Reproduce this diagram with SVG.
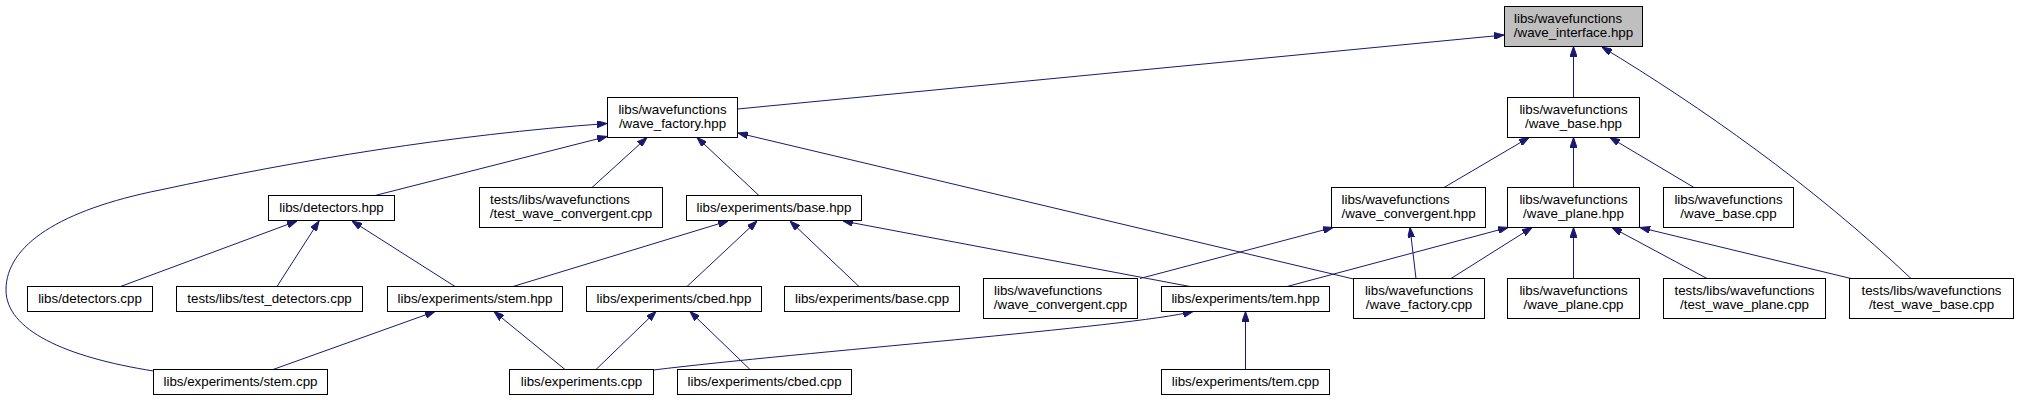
<svg xmlns="http://www.w3.org/2000/svg" width="2017" height="400" viewBox="0 0 2017 400">
<style>
.n rect{fill:#ffffff;stroke:#000000;stroke-width:1}
.n.root rect{fill:#bfbfbf}
.n text{font-family:"Liberation Sans",Arial,Helvetica,sans-serif;font-size:13.333px;fill:#000000;text-anchor:middle}
.n text.l{text-anchor:start}
.e path{fill:none;stroke:#191970;stroke-width:1;marker-end:url(#ah)}
</style>
<defs>
<marker id="ah" viewBox="0 0 10 7" refX="10" refY="3.5" markerWidth="10" markerHeight="7" markerUnits="userSpaceOnUse" orient="auto">
<path d="M0,0 L10,3.5 L0,7 z" fill="#191970" stroke="#191970" stroke-width="1"/>
</marker>
</defs>
<rect width="2017" height="400" fill="#ffffff"/>
<g id="edges" class="e">
<path d="M737.5,109 L1504,35"/>
<path d="M1573.5,97.5 L1573.5,46.5"/>
<path d="M1911,278.5 C1811,184 1701,107 1602,47"/>
<path d="M1444,187.5 L1529,137.5"/>
<path d="M1573.5,187.5 L1573.5,137.5"/>
<path d="M1694,187.5 L1610,137.5"/>
<path d="M375,195.5 L607,136.5"/>
<path d="M153.5,371 C65,357 6,330 6,290 C6,245 60,210 160,190 C300,160 450,135 607,123.5"/>
<path d="M592,187.5 L647,137.5"/>
<path d="M759,195.5 L697,137.5"/>
<path d="M1353.5,279 L738,133"/>
<path d="M1416,278.5 L1410,227.5"/>
<path d="M1140,278.5 L1333,227.5"/>
<path d="M1287,286.5 L1508,227.5"/>
<path d="M1451,278.5 L1532,227.5"/>
<path d="M1573.5,278.5 L1573.5,227.5"/>
<path d="M1707,278.5 L1612,227.5"/>
<path d="M1851,278.5 L1640,227.5"/>
<path d="M120.5,286.5 L297,221"/>
<path d="M277,286.5 L319,221"/>
<path d="M455,286.5 L352,221"/>
<path d="M513,286.5 L728,221"/>
<path d="M687,286.5 L757,221"/>
<path d="M859,286.5 L790,221"/>
<path d="M1190,286.5 L843,221"/>
<path d="M273,369.5 L435,311.5"/>
<path d="M565,369.5 L494,311.5"/>
<path d="M596,369.5 L656,311.5"/>
<path d="M750,369.5 L690,311.5"/>
<path d="M653.5,370 C800,352 1130,327 1193,311.5"/>
<path d="M1245.5,369.5 L1245.5,311.5"/>
</g>
<g id="wave_interface_hpp" class="n root"><rect x="1504.5" y="6.5" width="138" height="40"/><text class="l" x="1514" y="22.5">libs/wavefunctions</text><text x="1573.5" y="36.5">/wave_interface.hpp</text></g>
<g id="wave_factory_hpp" class="n"><rect x="607.5" y="97.5" width="130" height="40"/><text x="672.5" y="113.5">libs/wavefunctions</text><text x="672.5" y="127.5">/wave_factory.hpp</text></g>
<g id="wave_base_hpp" class="n"><rect x="1507.5" y="97.5" width="132" height="40"/><text x="1573.5" y="113.5">libs/wavefunctions</text><text x="1573.5" y="127.5">/wave_base.hpp</text></g>
<g id="detectors_hpp" class="n"><rect x="268.5" y="195.5" width="126" height="25"/><text x="331.5" y="211.5">libs/detectors.hpp</text></g>
<g id="test_wave_convergent_cpp" class="n"><rect x="479.5" y="187.5" width="183" height="40"/><text class="l" x="490" y="203.5">tests/libs/wavefunctions</text><text x="571" y="217.5">/test_wave_convergent.cpp</text></g>
<g id="base_hpp" class="n"><rect x="686.5" y="195.5" width="175" height="25"/><text x="774" y="211.5">libs/experiments/base.hpp</text></g>
<g id="wave_convergent_hpp" class="n"><rect x="1331.5" y="187.5" width="154" height="40"/><text class="l" x="1341.5" y="203.5">libs/wavefunctions</text><text x="1408.5" y="217.5">/wave_convergent.hpp</text></g>
<g id="wave_plane_hpp" class="n"><rect x="1507.5" y="187.5" width="132" height="40"/><text x="1573.5" y="203.5">libs/wavefunctions</text><text x="1573.5" y="217.5">/wave_plane.hpp</text></g>
<g id="wave_base_cpp" class="n"><rect x="1663.5" y="187.5" width="130" height="40"/><text x="1728.5" y="203.5">libs/wavefunctions</text><text x="1728.5" y="217.5">/wave_base.cpp</text></g>
<g id="detectors_cpp" class="n"><rect x="27.5" y="286.5" width="125" height="25"/><text x="90" y="302.5">libs/detectors.cpp</text></g>
<g id="test_detectors_cpp" class="n"><rect x="176.5" y="286.5" width="186" height="25"/><text x="269.5" y="302.5">tests/libs/test_detectors.cpp</text></g>
<g id="stem_hpp" class="n"><rect x="387.5" y="286.5" width="175" height="25"/><text x="475" y="302.5">libs/experiments/stem.hpp</text></g>
<g id="cbed_hpp" class="n"><rect x="586.5" y="286.5" width="175" height="25"/><text x="674" y="302.5">libs/experiments/cbed.hpp</text></g>
<g id="base_cpp" class="n"><rect x="784.5" y="286.5" width="175" height="25"/><text x="872" y="302.5">libs/experiments/base.cpp</text></g>
<g id="wave_convergent_cpp" class="n"><rect x="983.5" y="278.5" width="154" height="40"/><text class="l" x="994" y="294.5">libs/wavefunctions</text><text x="1060.5" y="308.5">/wave_convergent.cpp</text></g>
<g id="tem_hpp" class="n"><rect x="1161.5" y="286.5" width="168" height="25"/><text x="1245.5" y="302.5">libs/experiments/tem.hpp</text></g>
<g id="wave_factory_cpp" class="n"><rect x="1353.5" y="278.5" width="131" height="40"/><text x="1419" y="294.5">libs/wavefunctions</text><text x="1419" y="308.5">/wave_factory.cpp</text></g>
<g id="wave_plane_cpp" class="n"><rect x="1507.5" y="278.5" width="132" height="40"/><text x="1573.5" y="294.5">libs/wavefunctions</text><text x="1573.5" y="308.5">/wave_plane.cpp</text></g>
<g id="test_wave_plane_cpp" class="n"><rect x="1663.5" y="278.5" width="162" height="40"/><text x="1744.5" y="294.5">tests/libs/wavefunctions</text><text x="1744.5" y="308.5">/test_wave_plane.cpp</text></g>
<g id="test_wave_base_cpp" class="n"><rect x="1849.5" y="278.5" width="164" height="40"/><text x="1931.5" y="294.5">tests/libs/wavefunctions</text><text x="1931.5" y="308.5">/test_wave_base.cpp</text></g>
<g id="stem_cpp" class="n"><rect x="153.5" y="369.5" width="174" height="25"/><text x="240.5" y="385.5">libs/experiments/stem.cpp</text></g>
<g id="experiments_cpp" class="n"><rect x="509.5" y="369.5" width="144" height="25"/><text x="581.5" y="385.5">libs/experiments.cpp</text></g>
<g id="cbed_cpp" class="n"><rect x="677.5" y="369.5" width="174" height="25"/><text x="764.5" y="385.5">libs/experiments/cbed.cpp</text></g>
<g id="tem_cpp" class="n"><rect x="1161.5" y="369.5" width="168" height="25"/><text x="1245.5" y="385.5">libs/experiments/tem.cpp</text></g>
</svg>
